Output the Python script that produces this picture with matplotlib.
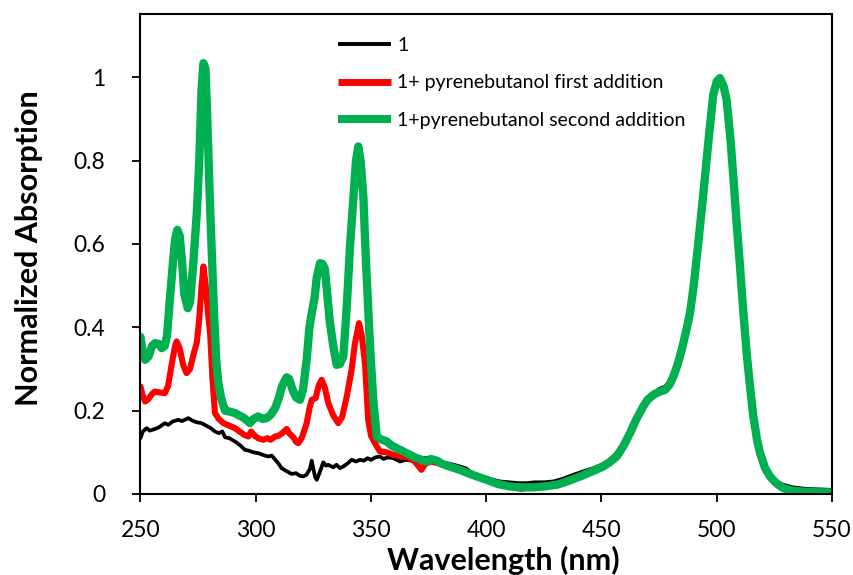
import numpy as np
import matplotlib
matplotlib.use("Agg")
import matplotlib.pyplot as plt

plt.rcParams['font.family'] = ['Lato', 'DejaVu Sans']

# ---------------- data ----------------
wl_1 = [250, 251, 252.7, 254, 256.3, 258, 260.6, 262, 264, 266.4, 268, 270.8, 272.5, 274.5,
        276.5, 278.5, 280.5, 282.3, 284, 285.5, 286.7, 288.5, 291, 293, 295.3, 297, 299,
        301.1, 303, 305.4, 307, 308.5, 310, 311.2, 313, 315.6, 317.5, 319, 320.6, 322,
        323.5, 324.3, 325, 325.8, 326.5, 327.5, 329.3, 330.5, 331.5, 333.6, 335, 336.5,
        338, 340, 341.6, 343.5, 345.2, 347, 348.5, 350, 352, 353.9, 355.5, 357, 359.7,
        362.6, 365, 368, 371, 374.2, 377, 380, 382.9, 386, 388.6, 391, 393, 395.8, 398,
        400, 403, 406, 410, 414, 417.5, 421, 425, 429.1, 433, 437.8, 442, 446.5, 450,
        453, 455.1, 458, 461, 464, 467, 470, 472.5, 475, 477.6, 479.5, 481.2, 483, 484.8,
        486.5, 488.4, 490, 492, 494, 495.6, 497, 498.5, 500, 501.4, 503, 504.3, 506,
        507.2, 508.5, 510.1, 511.5, 513, 514.5, 515.9, 517.5, 518.8, 521, 523.1, 526,
        528.9, 533, 539, 545, 550]
abs_1 = [0.134, 0.150, 0.158, 0.152, 0.156, 0.160, 0.170, 0.166, 0.174, 0.178, 0.175, 0.182,
         0.176, 0.172, 0.170, 0.164, 0.158, 0.150, 0.146, 0.150, 0.136, 0.134, 0.126, 0.118,
         0.106, 0.104, 0.100, 0.098, 0.094, 0.090, 0.092, 0.082, 0.072, 0.062, 0.056, 0.048,
         0.050, 0.044, 0.042, 0.046, 0.060, 0.080, 0.060, 0.040, 0.034, 0.048, 0.076, 0.068,
         0.070, 0.064, 0.070, 0.062, 0.066, 0.074, 0.082, 0.078, 0.082, 0.080, 0.086, 0.082,
         0.088, 0.090, 0.084, 0.088, 0.086, 0.078, 0.082, 0.080, 0.086, 0.086, 0.080, 0.076,
         0.074, 0.070, 0.066, 0.062, 0.054, 0.046, 0.042, 0.038, 0.034, 0.030, 0.028, 0.026,
         0.026, 0.028, 0.028, 0.030, 0.036, 0.046, 0.054, 0.062, 0.070, 0.080, 0.090, 0.108,
         0.130, 0.160, 0.194, 0.222, 0.240, 0.252, 0.258, 0.270, 0.290, 0.320, 0.350, 0.390,
         0.436, 0.500, 0.600, 0.710, 0.800, 0.880, 0.955, 0.990, 0.998, 0.978, 0.946, 0.850,
         0.762, 0.660, 0.546, 0.440, 0.338, 0.260, 0.190, 0.135, 0.100, 0.064, 0.046, 0.030,
         0.022, 0.016, 0.012, 0.011, 0.010]

wl_2 = [250, 251, 252, 253.5, 255, 256.3, 258, 260.6, 262, 263.5, 265, 265.7, 267, 268.5,
        270, 271.5, 273, 274.4, 275.5, 276.5, 277.3, 278.3, 279.2, 280.2, 281.2, 282.3, 284,
        286, 288.5, 291, 293, 295, 296.8, 298, 299.5, 301, 303.3, 305, 306.5, 308.4, 310,
        311.5, 313.4, 314.5, 316.3, 317.5, 318.5, 320, 322.1, 323.5, 324.3, 326, 327.3,
        328.6, 330, 331.5, 333.5, 335.8, 337.5, 339.5, 341.6, 343, 344.8, 346, 347.4, 348.8,
        350, 351.7, 353.9, 356.8, 359.7, 363, 366, 369, 371.9, 373.5, 376, 379, 382, 386,
        390, 395, 400, 405, 410, 415, 418, 422, 430.6, 435, 440.7, 445, 450.8, 453.5, 456.6,
        459.5, 462.4, 465, 468.1, 470, 472.5, 475, 477.6, 479.5, 481.2, 483, 484.8, 486.5,
        488.4, 490, 492, 494, 495.6, 497, 498.5, 500, 501.4, 503, 504.3, 506, 507.2, 508.5,
        510.1, 511.5, 513, 514.5, 515.9, 517.5, 518.8, 521, 523.1, 526, 528.9, 533, 539,
        545, 550]
abs_2 = [0.258, 0.235, 0.222, 0.228, 0.240, 0.246, 0.244, 0.242, 0.260, 0.310, 0.355, 0.366,
         0.350, 0.310, 0.290, 0.300, 0.335, 0.362, 0.420, 0.500, 0.546, 0.500, 0.440, 0.386,
         0.280, 0.194, 0.180, 0.170, 0.164, 0.158, 0.150, 0.142, 0.138, 0.150, 0.140, 0.134,
         0.130, 0.134, 0.130, 0.138, 0.140, 0.146, 0.156, 0.146, 0.136, 0.125, 0.122, 0.135,
         0.170, 0.210, 0.226, 0.230, 0.260, 0.274, 0.255, 0.218, 0.190, 0.170, 0.185, 0.234,
         0.298, 0.360, 0.410, 0.380, 0.314, 0.178, 0.140, 0.122, 0.102, 0.100, 0.094, 0.090,
         0.088, 0.078, 0.058, 0.072, 0.078, 0.074, 0.068, 0.062, 0.054, 0.044, 0.034, 0.026,
         0.020, 0.012, 0.016, 0.018, 0.022, 0.030, 0.042, 0.052, 0.066, 0.076, 0.090, 0.115,
         0.146, 0.178, 0.210, 0.226, 0.238, 0.245, 0.250, 0.262, 0.282, 0.310, 0.346, 0.385,
         0.434, 0.500, 0.602, 0.710, 0.800, 0.880, 0.958, 0.990, 0.998, 0.978, 0.946, 0.850,
         0.762, 0.660, 0.546, 0.440, 0.338, 0.255, 0.186, 0.130, 0.098, 0.062, 0.042, 0.025,
         0.014, 0.008, 0.005, 0.004, 0.004]

wl_3 = [250, 251, 252, 253.5, 255, 256.3, 258, 259.2, 260.5, 261.5, 262.5, 264, 265, 266, 267,
        268, 269, 270.5, 271.5, 273, 274.5, 275.5, 276.5, 277.3, 278.2, 279, 280, 280.9, 282,
        283, 283.8, 285, 286.7, 288.5, 291, 293, 295, 297.5, 299, 301, 303, 304.7, 306.5,
        308.4, 310, 311.5, 313.4, 314.5, 316, 317.5, 319.2, 320.5, 322.1, 323.3, 324.3,
        325.5, 326.5, 327.9, 329, 330, 331, 332.2, 333.5, 335.1, 336.5, 338, 339.5, 340.9,
        342, 343.5, 344.5, 345.5, 346.7, 347.8, 349.6, 351, 352.5, 354, 356.8, 359, 362.6,
        365.5, 369, 372, 374.2, 376, 378.5, 381, 384, 388.6, 392, 396, 400.2, 405, 410.3,
        415, 420.4, 425, 430.6, 435, 440.7, 445, 450.8, 453.5, 456.6, 459.5, 462.4, 465,
        468.1, 470, 472.5, 475, 477.6, 479.5, 481.2, 483, 484.8, 486.5, 488.4, 490, 492,
        494, 495.6, 497, 498.5, 500, 501.4, 503, 504.3, 506, 507.2, 508.5, 510.1, 511.5,
        513, 514.5, 515.9, 517.5, 518.8, 521, 523.1, 526, 528.9, 533, 539, 545, 550]
abs_3 = [0.377, 0.340, 0.322, 0.330, 0.355, 0.362, 0.360, 0.350, 0.355, 0.380, 0.450, 0.550,
         0.610, 0.634, 0.620, 0.560, 0.480, 0.446, 0.460, 0.560, 0.680, 0.800, 0.970, 1.034,
         1.020, 0.900, 0.720, 0.586, 0.420, 0.310, 0.266, 0.230, 0.200, 0.198, 0.194, 0.188,
         0.182, 0.170, 0.180, 0.186, 0.180, 0.182, 0.190, 0.206, 0.230, 0.260, 0.280, 0.276,
         0.250, 0.232, 0.226, 0.250, 0.322, 0.400, 0.434, 0.470, 0.520, 0.554, 0.552, 0.540,
         0.480, 0.410, 0.360, 0.310, 0.312, 0.330, 0.450, 0.594, 0.680, 0.800, 0.834, 0.800,
         0.714, 0.560, 0.354, 0.226, 0.138, 0.132, 0.126, 0.116, 0.106, 0.098, 0.088, 0.082,
         0.078, 0.084, 0.080, 0.072, 0.066, 0.058, 0.050, 0.042, 0.034, 0.024, 0.018, 0.016,
         0.016, 0.018, 0.022, 0.030, 0.042, 0.052, 0.066, 0.076, 0.090, 0.115, 0.146, 0.178,
         0.210, 0.226, 0.238, 0.245, 0.250, 0.262, 0.282, 0.310, 0.346, 0.385, 0.434, 0.500,
         0.602, 0.710, 0.800, 0.880, 0.958, 0.990, 0.998, 0.978, 0.946, 0.850, 0.762, 0.660,
         0.546, 0.440, 0.338, 0.255, 0.186, 0.130, 0.098, 0.062, 0.042, 0.025, 0.014, 0.008,
         0.005, 0.004, 0.004]

labels = ['1', '1+ pyrenebutanol first addition', '1+pyrenebutanol second addition']
y_ticks = [0, 0.2, 0.4, 0.6, 0.8, 1]
y_tick_labels = ['0', '0.2', '0.4', '0.6', '0.8', '1']
x_ticks = [250, 300, 350, 400, 450, 500, 550]

# ---------------- plot ----------------
fig = plt.figure(figsize=(8.54, 5.75), dpi=100)
ax = fig.add_axes([0.1645, 0.1409, 0.8097, 0.8348])

kw = dict(solid_joinstyle='round', solid_capstyle='round')
ax.plot(wl_1, abs_1, color='black', lw=2.7, label=labels[0], **kw)
ax.plot(wl_2, abs_2, color='#ff0000', lw=4.4, label=labels[1], **kw)
ax.plot(wl_3, abs_3, color='#00b050', lw=6.0, label=labels[2], **kw)

ax.set_xlim(250, 550)
ax.set_ylim(0, 1.152)
ax.set_xticks(x_ticks)
ax.set_yticks(y_ticks)
ax.set_yticklabels(y_tick_labels)
ax.tick_params(direction='out', length=5.5, width=1.3, labelsize=16.5, pad=13)
ax.tick_params(axis='y', pad=20)
for s in ax.spines.values():
    s.set_linewidth(1.5)

# the titles sit a bit off-centre in the original
ax.set_xlabel('Wavelength (nm)', fontsize=22, fontweight='bold', labelpad=7)
ax.xaxis.set_label_coords(0.525, -0.108)
ax.set_ylabel('Normalized Absorption', fontsize=22, fontweight='bold', labelpad=22)
ax.yaxis.label.set_y(0.512)

leg = ax.legend(loc='upper left', bbox_to_anchor=(338 / 854, 1 - 37 / 575),
                bbox_transform=fig.transFigure, frameon=False, fontsize=14,
                handlelength=2.75, handletextpad=0.3, labelspacing=1.05, borderpad=0,
                borderaxespad=0)
for h, w in zip(leg.get_lines(), [2.8, 5.0, 5.8]):
    h.set_linewidth(w)
    h.set_solid_capstyle('butt')

fig.savefig('out.png', dpi=100)
